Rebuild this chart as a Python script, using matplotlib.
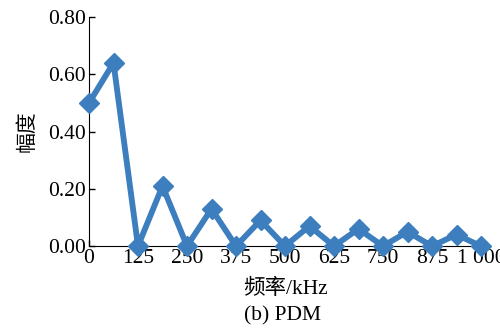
import numpy as np
import matplotlib.pyplot as plt

plt.rcParams['font.family'] = ['Liberation Serif', 'Noto Sans CJK SC']

freq = [0, 62.5, 125, 187.5, 250, 312.5, 375, 437.5, 500,
        562.5, 625, 687.5, 750, 812.5, 875, 937.5, 1000]
amp = [0.50, 0.64, 0.00, 0.21, 0.00, 0.13, 0.00, 0.09, 0.00,
       0.07, 0.00, 0.06, 0.00, 0.05, 0.00, 0.04, 0.00]
xticks = [0, 125, 250, 375, 500, 625, 750, 875, 1000]
xtick_labels = ['0', '125', '250', '375', '500', '625', '750', '875', '1 000']
yticks = [0.0, 0.2, 0.4, 0.6, 0.8]

fig = plt.figure(figsize=(5, 3.29), dpi=100)
ax = fig.add_axes([0.178, 0.252, 0.784, 0.696])

ax.plot(freq, amp, color='#3d7ebf', lw=4.2, marker='D', ms=10.5,
        clip_on=False, zorder=3)

ax.set_xlim(0, 1000)
ax.set_ylim(0, 0.8)
ax.set_xticks(xticks)
ax.set_xticklabels(xtick_labels)
ax.set_yticks(yticks)
ax.set_yticklabels(['%.2f' % v for v in yticks])
ax.tick_params(direction='in', labelsize=15.5, length=4, width=1, pad=2)
ax.spines['top'].set_visible(False)
ax.spines['right'].set_visible(False)

ax.set_ylabel('幅度', fontsize=15, labelpad=8)
ax.set_xlabel('频率/kHz', fontsize=15.5, labelpad=8)
fig.text(0.566, 0.027, '(b) PDM', ha='center', fontsize=15.5)

fig.savefig('out.png', dpi=100)
